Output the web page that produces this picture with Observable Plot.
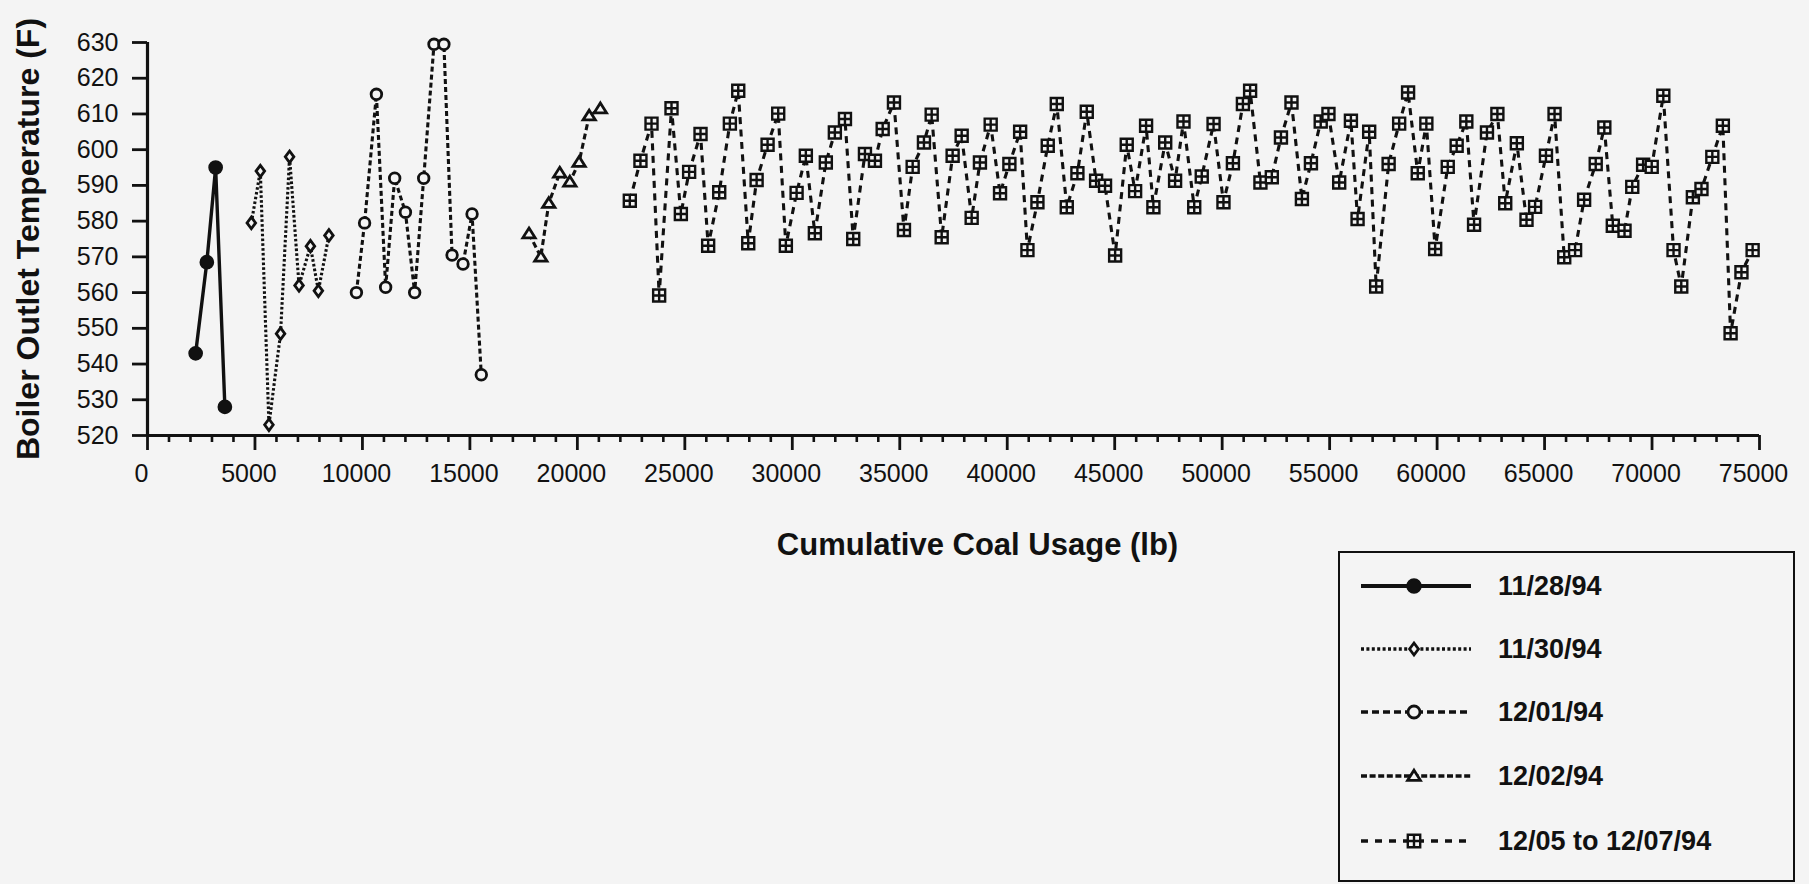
<!DOCTYPE html>
<html>
<head>
<meta charset="utf-8">
<script src="https://cdn.jsdelivr.net/npm/d3@7"></script>
<script src="https://cdn.jsdelivr.net/npm/@observablehq/plot@0.6"></script>
<style>
  html, body { margin: 0; padding: 0; background: #f4f4f4; }
  #wrap { position: relative; width: 1809px; height: 884px; overflow: hidden;
          font-family: "Liberation Sans", Arial, Helvetica, sans-serif; color: #111; }
  #chart { position: absolute; left: 0; top: 0; }
  #legend { position: absolute; left: 1338px; top: 551px; width: 457px; height: 331px;
            box-sizing: border-box; border: 2.8px solid #111; }
</style>
</head>
<body>
<div id="wrap">
  <div id="chart"></div>
  <div id="legend"></div>
</div>
<script>
// ---------------- data ----------------
const seriesNames = ["11/28/94", "11/30/94", "12/01/94", "12/02/94", "12/05 to 12/07/94"];

const coal_1128 = [2240, 2760, 3170, 3600];
const temp_1128 = [543, 568.5, 595, 528];

const coal_1130 = [4830, 5250, 5650, 6190, 6610, 7050, 7580, 7950, 8440];
const temp_1130 = [579.5, 594, 523, 548.5, 598, 562, 573, 560.5, 576];

const coal_1201 = [9720, 10100, 10650, 11080, 11500, 12000, 12430, 12850, 13330, 13790, 14170, 14680, 15100, 15530];
const temp_1201 = [560, 579.5, 615.5, 561.5, 592, 582.5, 560, 592, 629.5, 629.5, 570.5, 568, 582, 537];

const coal_1202 = [17750, 18300, 18670, 19180, 19650, 20080, 20550, 21070];
const temp_1202 = [576.5, 570, 585, 593.5, 591, 596.5, 609.5, 611.5];

const coal_1205 = [
  22440, 22935, 23450, 23805, 24380, 24815, 25200, 25730, 26085, 26600,
  27095, 27485, 27950, 28340, 28850, 29345, 29700, 30200, 30630, 31050,
  31560, 31980, 32450, 32835, 33380, 33845, 34205, 34730, 35195, 35600,
  36125, 36485, 36950, 37460, 37880, 38345, 38730, 39230, 39665, 40100,
  40600, 40940, 41405, 41885, 42305, 42770, 43265, 43700, 44135, 44550,
  45020, 45560, 45950, 46460, 46800, 47350, 47810, 48200, 48700, 49050,
  49600, 50060, 50500, 50965, 51300, 51780, 52310, 52735, 53225, 53710,
  54130, 54585, 54945, 55445, 55990, 56300, 56840, 57165, 57745, 58235,
  58650, 59100, 59500, 59910, 60495, 60910, 61360, 61720, 62320, 62805,
  63170, 63710, 64160, 64560, 65065, 65465, 65915, 66420, 66840, 67380,
  67780, 68175, 68720, 69080, 69585, 69985, 70525, 71000, 71360, 71900,
  72300, 72805, 73295, 73655, 74160, 74680
];
const temp_1205 = [
  585.7, 596.9, 607.3, 559.2, 611.6, 582, 593.8, 604.4, 573.1, 588.1,
  607.3, 616.5, 573.8, 591.5, 601.4, 610.1, 573.1, 587.9, 598.3, 576.6,
  596.4, 604.8, 608.6, 575, 598.8, 596.9, 605.8, 613.2, 577.5, 595.2,
  602, 609.8, 575.5, 598.3, 603.9, 580.9, 596.4, 607, 587.8, 596,
  605, 571.9, 585.3, 601.1, 612.8, 583.9, 593.4, 610.6, 591.3, 589.9,
  570.4, 601.4, 588.4, 606.7, 583.9, 602, 591.3, 607.9, 583.9, 592.5,
  607.2, 585.3, 596.2, 612.8, 616.5, 590.8, 592.3, 603.4, 613.2, 586.2,
  596.2, 607.9, 610, 590.8, 608.1, 580.6, 605, 561.7, 596, 607.3,
  616, 593.4, 607.3, 572.2, 595.2, 601.1, 607.9, 579, 604.8, 610,
  585, 601.8, 580.4, 584, 598.3, 610, 569.9, 571.9, 586, 596,
  606.2, 578.7, 577.3, 589.6, 595.8, 595.2, 615.1, 571.9, 561.7, 586.7,
  589, 598, 606.7, 548.6, 565.7, 571.9
];

const yTicks = d3.range(520, 631, 10);
const xTicks = d3.range(0, 75001, 5000);
const xMinorTicks = d3.range(0, 75001, 1000).filter(d => d % 5000 !== 0);

// ---------------- styles ----------------
const BG = "#f4f4f4", INK = "#111";
const FONT = "'Liberation Sans', Arial, Helvetica, sans-serif";

const rOf = s => Math.sqrt(s / Math.PI);
const symDiamond = { draw(c, s) { const r = rOf(s), w = r * 0.74;
  c.moveTo(0, -r); c.lineTo(w, 0); c.lineTo(0, r); c.lineTo(-w, 0); c.closePath(); } };
const symTriangle = { draw(c, s) { const r = rOf(s);
  c.moveTo(0, -r); c.lineTo(1.1 * r, 0.75 * r); c.lineTo(-1.1 * r, 0.75 * r); c.closePath(); } };
const symBoxPlus = { draw(c, s) { const h = rOf(s);
  c.moveTo(-h, -h); c.lineTo(h, -h); c.lineTo(h, h); c.lineTo(-h, h); c.closePath();
  c.moveTo(-h, 0); c.lineTo(h, 0); c.moveTo(0, -h); c.lineTo(0, h); } };

const styles = [
  { dash: null,      legendDash: null,      lw: 3.4, symbol: "circle",    r: 6.6, legendR: 7,   fill: INK, sw: 1.5 },
  { dash: "2.6,2.2", legendDash: "3,2.4",   lw: 3.1, symbol: symDiamond,  r: 5.8, legendR: 6,   fill: BG,  sw: 2.8 },
  { dash: "5,3",     legendDash: "7,4",     lw: 3.1, symbol: "circle",    r: 5.3, legendR: 6,   fill: BG,  sw: 2.8 },
  { dash: "6,3.5",   legendDash: "6,2.6",   lw: 3.1, symbol: symTriangle, r: 5.6, legendR: 5.8, fill: BG,  sw: 2.8 },
  { dash: "7,5.5",   legendDash: "7,7",     lw: 3.1, symbol: symBoxPlus,  r: 6,   legendR: 6.2, fill: BG,  sw: 2.4 }
];

const seriesData = [
  d3.zip(coal_1128, temp_1128),
  d3.zip(coal_1130, temp_1130),
  d3.zip(coal_1201, temp_1201),
  d3.zip(coal_1202, temp_1202),
  d3.zip(coal_1205, temp_1205)
];

const lineMarks = seriesData.map((data, i) => Plot.line(data, {
  x: d => d[0], y: d => d[1], stroke: INK, strokeWidth: styles[i].lw,
  strokeDasharray: styles[i].dash || undefined, strokeLinejoin: "miter", strokeLinecap: "butt"
}));
const dotMarks = seriesData.map((data, i) => Plot.dot(data, {
  x: d => d[0], y: d => d[1], r: styles[i].r, symbol: styles[i].symbol,
  fill: styles[i].fill, stroke: INK, strokeWidth: styles[i].sw
}));

const chart = Plot.plot({
  width: 1809, height: 585,
  marginTop: 42, marginRight: 50, marginBottom: 150, marginLeft: 147,
  x: { domain: [0, 75000], label: null },
  y: { domain: [520, 630], label: null },
  style: { background: "transparent", fontFamily: FONT, color: INK, overflow: "visible" },
  marks: [
    Plot.axisY({ ticks: yTicks, tickSize: 15, tickPadding: 14, fontSize: 25, strokeWidth: 2.8, label: null }),
    Plot.axisX({ ticks: xMinorTicks, tickSize: 7, tickFormat: () => "", strokeWidth: 2.6, label: null }),
    Plot.axisX({ ticks: xTicks, tickSize: 15, tickFormat: () => "", strokeWidth: 2.8, label: null }),
    Plot.axisX({ ticks: xTicks, tickSize: 0, tickPadding: 29, tickFormat: "d", fontSize: 25, dx: -6, label: null }),
    Plot.ruleY([520], { stroke: INK, strokeWidth: 3.2 }),
    Plot.ruleX([0], { stroke: INK, strokeWidth: 3.2 }),
    ...lineMarks,
    ...dotMarks,
    Plot.text(["Boiler Outlet Temperature (F)"], {
      text: d => d, frameAnchor: "left", dx: -119, rotate: -90, textAnchor: "middle",
      lineAnchor: "middle", fontSize: 32, fontWeight: "bold", fill: INK
    }),
    Plot.text(["Cumulative Coal Usage (lb)"], {
      text: d => d, frameAnchor: "bottom", dx: 24, dy: 110, textAnchor: "middle",
      lineAnchor: "middle", fontSize: 31, fontWeight: "bold", fill: INK
    })
  ]
});
document.getElementById("chart").appendChild(chart);

// ---------------- legend ----------------
const lg = d3.select("#legend").append("svg")
  .attr("width", 452).attr("height", 326)
  .style("display", "block")
  .style("font-family", FONT);
const rowY = [33, 96, 159, 223, 288];
seriesNames.forEach((name, i) => {
  const st = styles[i];
  const g = lg.append("g").attr("transform", `translate(0,${rowY[i]})`);
  g.append("line").attr("x1", 21).attr("x2", 131).attr("y1", 0).attr("y2", 0)
    .attr("stroke", INK).attr("stroke-width", st.lw + 0.4)
    .attr("stroke-dasharray", st.legendDash);
  if (st.symbol === "circle") {
    g.append("circle").attr("cx", 74).attr("cy", 0).attr("r", st.legendR)
      .attr("fill", st.fill).attr("stroke", INK).attr("stroke-width", st.sw);
  } else {
    g.append("path").attr("transform", "translate(74,0)")
      .attr("d", d3.symbol(st.symbol, Math.PI * st.legendR * st.legendR)())
      .attr("fill", st.fill).attr("stroke", INK).attr("stroke-width", st.sw);
  }
  g.append("text").attr("x", 158).attr("y", 0).attr("dy", "0.35em")
    .attr("font-size", 27).attr("font-weight", "bold").attr("fill", INK)
    .text(name);
});
</script>
</body>
</html>
